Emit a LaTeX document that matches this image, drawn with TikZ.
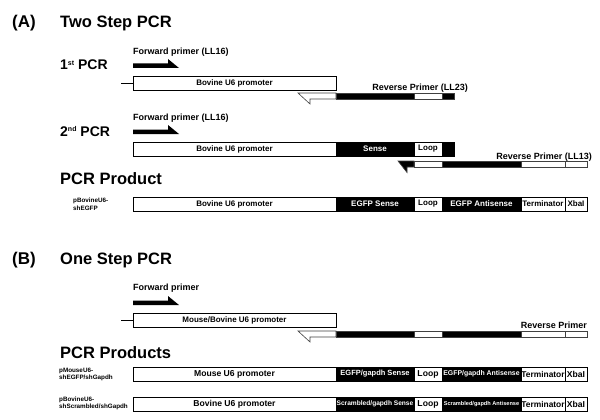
\documentclass[tikz,border=0pt]{standalone}
\usepackage{fontspec}
\setmainfont{Liberation Sans}
\newcommand{\supx}[1]{\raisebox{4.5pt}{\fontsize{7}{7}\selectfont #1}}
\tikzset{
  fs/.style={font=\fontsize{#1}{#1}\selectfont\bfseries},
  seg/.style={draw=black, line width=0.7pt, inner sep=0pt, outer sep=0pt, minimum height=14pt, anchor=west, fs=8},
  wseg/.style={seg, fill=white, text=black},
  bseg/.style={seg, fill=black, text=white},
  strand/.style={draw=black!75, line width=0.6pt, inner sep=0pt, outer sep=0pt, minimum height=6pt, anchor=west},
  wst/.style={strand, fill=white},
  bst/.style={strand, fill=black},
  lab/.style={anchor=base west, inner sep=0pt, fs=9},
  rlab/.style={anchor=base east, inner sep=0pt, fs=9},
  head/.style={anchor=base west, inner sep=0pt, fs=16.5},
  sub/.style={anchor=base west, inner sep=0pt, fs=14},
  rowlab/.style={anchor=west, align=left, inner sep=0pt, font=\fontsize{6.3}{7.6}\selectfont\bfseries},
  lead/.style={draw=black, line width=0.7pt},
}
\begin{document}
\begin{tikzpicture}[x=1pt, y=-1pt]
\useasboundingbox (0,0) rectangle (600,420);

% ---------------- (A) ----------------
\node[anchor=base west, inner sep=0pt, fs=17] (A) at (12,28) {(A)};
\node[head] (tA) at (60,28) {Two Step PCR};

% 1st PCR
\node[sub] (p1lab) at (60,70) {1\supx{st} PCR};
\node[lab] (f1) at (133,55) {Forward primer (LL16)};
\fill (133,63.5) -- (168,63.5) -- (168,59) -- (179,68) -- (133,68) -- cycle;
\coordinate (l1) at (121,83);
\node[wseg, minimum width=203pt] (b1) at (133,83) {Bovine U6 promoter};
\draw[lead] (l1) -- (b1.west);
\node[rlab] (r23) at (468,91) {Reverse Primer (LL23)};
\filldraw[fill=white, draw=black!75, line width=0.6pt] (298,93) -- (336,93) -- (336,99) -- (310,99) -- (310,104) -- cycle;
\node[bst, minimum width=78pt] (s1a) at (336,96) {};
\node[wst, minimum width=28pt] (s1b) at (s1a.east) {};
\node[bst, minimum width=12pt] (s1c) at (s1b.east) {};

% 2nd PCR
\node[sub] (p2lab) at (60,136) {2\supx{nd} PCR};
\node[lab] (f2) at (133,121) {Forward primer (LL16)};
\fill (133,129.5) -- (168,129.5) -- (168,125) -- (179,134) -- (133,134) -- cycle;
\node[wseg, minimum width=203pt] (b2a) at (133,149) {Bovine U6 promoter};
\node[bseg, minimum width=78pt] (b2b) at (b2a.east) {Sense};
\node[wseg, minimum width=28pt] (b2c) at (b2b.east) {Loop};
\node[bseg, minimum width=12pt] (b2d) at (b2c.east) {};
\node[rlab] (r13) at (592,159) {Reverse Primer (LL13)};
\filldraw[fill=black, draw=black!75, line width=0.6pt] (398,161) -- (414,161) -- (414,167) -- (407,167) -- (407,172.5) -- cycle;
\node[wst, minimum width=28pt] (s2a) at (414,164) {};
\node[bst, minimum width=79pt] (s2b) at (s2a.east) {};
\node[wst, minimum width=44pt] (s2c) at (s2b.east) {};
\node[wst, minimum width=22pt] (s2d) at (s2c.east) {};

% PCR Product
\node[head] (ppA) at (60,184) {PCR Product};
\node[rowlab] (n3) at (73,204) {pBovineU6-\\shEGFP};
\node[wseg, minimum width=203pt] (b3a) at (133,204) {Bovine U6 promoter};
\node[bseg, minimum width=78pt] (b3b) at (b3a.east) {EGFP Sense};
\node[wseg, minimum width=28pt] (b3c) at (b3b.east) {Loop};
\node[bseg, minimum width=79pt] (b3d) at (b3c.east) {EGFP Antisense};
\node[wseg, minimum width=44pt] (b3e) at (b3d.east) {Terminator};
\node[wseg, minimum width=22pt] (b3f) at (b3e.east) {XbaI};

% ---------------- (B) ----------------
\node[anchor=base west, inner sep=0pt, fs=17] (B) at (12,264) {(B)};
\node[head] (tB) at (60,264) {One Step PCR};
\node[lab] (f3) at (133,290) {Forward primer};
\fill (133,300.5) -- (168,300.5) -- (168,296) -- (179,305) -- (133,305) -- cycle;
\coordinate (l4) at (121,320);
\node[wseg, minimum width=203pt] (b4) at (133,320) {Mouse/Bovine U6 promoter};
\draw[lead] (l4) -- (b4.west);
\node[rlab] (rB) at (587,328) {Reverse Primer};
\filldraw[fill=white, draw=black!75, line width=0.6pt] (298,331) -- (336,331) -- (336,337) -- (310,337) -- (310,342) -- cycle;
\node[bst, minimum width=78pt] (s4a) at (336,334) {};
\node[wst, minimum width=28pt] (s4b) at (s4a.east) {};
\node[bst, minimum width=79pt] (s4c) at (s4b.east) {};
\node[wst, minimum width=44pt] (s4d) at (s4c.east) {};
\node[wst, minimum width=22pt] (s4e) at (s4d.east) {};

% PCR Products
\node[head] (ppB) at (60,358) {PCR Products};
\node[rowlab] (n5) at (59,374.5) {pMouseU6-\\shEGFP/shGapdh};
\node[wseg, minimum width=203pt, fs=8.6] (b5a) at (133,374) {Mouse U6 promoter};
\node[bseg, minimum width=78pt, fs=7.5] (b5b) at (b5a.east) {EGFP/gapdh Sense};
\node[wseg, minimum width=28pt, fs=8.6] (b5c) at (b5b.east) {Loop};
\node[bseg, minimum width=79pt, fs=6.9] (b5d) at (b5c.east) {EGFP/gapdh Antisense};
\node[wseg, minimum width=44pt, fs=8.4] (b5e) at (b5d.east) {Terminator};
\node[wseg, minimum width=22pt, fs=8.6] (b5f) at (b5e.east) {XbaI};

\node[rowlab] (n6) at (59,403.5) {pBovineU6-\\shScrambled/shGapdh};
\node[wseg, minimum width=203pt, fs=8.6] (b6a) at (133,404) {Bovine U6 promoter};
\node[bseg, minimum width=78pt, fs=6.6] (b6b) at (b6a.east) {Scrambled/gapdh Sense};
\node[wseg, minimum width=28pt, fs=8.6] (b6c) at (b6b.east) {Loop};
\node[bseg, minimum width=79pt, fs=5.6] (b6d) at (b6c.east) {Scrambled/gapdh Antisense};
\node[wseg, minimum width=44pt, fs=8.4] (b6e) at (b6d.east) {Terminator};
\node[wseg, minimum width=22pt, fs=8.6] (b6f) at (b6e.east) {XbaI};
\end{tikzpicture}
\end{document}
